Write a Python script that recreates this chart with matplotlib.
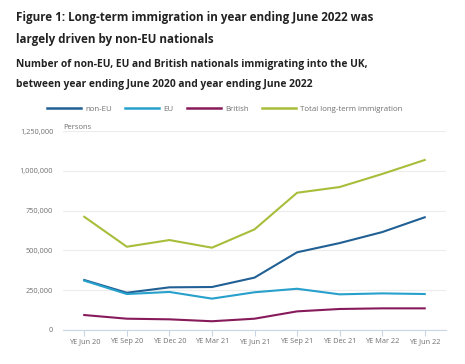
import matplotlib
matplotlib.use("Agg")
import matplotlib.pyplot as plt
from matplotlib.ticker import FuncFormatter

plt.rcParams['font.family'] = ['Open Sans', 'DejaVu Sans']

categories = ["YE Jun 20", "YE Sep 20", "YE Dec 20", "YE Mar 21", "YE Jun 21",
              "YE Sep 21", "YE Dec 21", "YE Mar 22", "YE Jun 22"]
non_eu = [314000, 234000, 268000, 270000, 329000, 488000, 546000, 615000, 708000]
eu = [310000, 226000, 239000, 197000, 237000, 259000, 224000, 230000, 226000]
british = [94000, 71000, 67000, 55000, 71000, 117000, 132000, 136000, 136000]
total = [711000, 523000, 565000, 517000, 632000, 862000, 898000, 980000, 1068000]
series_names = ["non-EU", "EU", "British", "Total long-term immigration"]
colors = ["#206095", "#27a0cc", "#871a5b", "#a8bd3a"]
yticks = [0, 250000, 500000, 750000, 1000000, 1250000]

fig = plt.figure(figsize=(4.65, 3.64), dpi=100)
ax = fig.add_axes([63/465, 34/364, (446-63)/465, (330-131)/364])

x = list(range(len(categories)))
lines = []
for vals, name, c in zip([non_eu, eu, british, total], series_names, colors):
    ln, = ax.plot(x, vals, color=c, lw=1.5, label=name, solid_joinstyle='round')
    lines.append(ln)

ax.set_xlim(-0.5, len(categories) - 0.5)
ax.set_ylim(0, 1250000)
ax.set_yticks(yticks)
ax.yaxis.set_major_formatter(FuncFormatter(lambda v, p: f"{int(v):,}"))
ax.set_xticks(x)
ax.set_xticklabels(categories)
ax.grid(axis='y', color='#ececec', lw=0.8)
ax.set_axisbelow(True)
for s in ['top', 'right', 'left']:
    ax.spines[s].set_visible(False)
ax.spines['bottom'].set_color('#c9d6e6')
ax.spines['bottom'].set_linewidth(0.8)
ax.tick_params(axis='y', length=0, labelsize=5.3, labelcolor='#707070', pad=7)
ax.tick_params(axis='x', length=4, color='#c9d6e6', labelsize=5.3, labelcolor='#707070', pad=2)

ax.text(0, 1.0, "Persons", transform=ax.transAxes, fontsize=5.5, color='#707070',
        ha='left', va='bottom')

fig.text(16/465, 1 - 17/364, "Figure 1: Long-term immigration in year ending June 2022 was",
         fontsize=8.4, fontweight='bold', color='#222222', va='center', ha='left')
fig.text(16/465, 1 - 39/364, "largely driven by non-EU nationals",
         fontsize=8.4, fontweight='bold', color='#222222', va='center', ha='left')
fig.text(16/465, 1 - 64/364, "Number of non-EU, EU and British nationals immigrating into the UK,",
         fontsize=7.4, fontweight='bold', color='#222222', va='center', ha='left')
fig.text(16/465, 1 - 85/364, "between year ending June 2020 and year ending June 2022",
         fontsize=7.4, fontweight='bold', color='#222222', va='center', ha='left')

leg = fig.legend(handles=lines, loc='center left', bbox_to_anchor=(47/465, 1 - 109/364),
                 ncol=4, frameon=False, fontsize=5.7, handlelength=4.3,
                 handletextpad=0.5, columnspacing=1.7, borderaxespad=0, borderpad=0)
for t in leg.get_texts():
    t.set_color('#707070')
for l in leg.get_lines():
    l.set_linewidth(1.8)

fig.savefig("out.png", dpi=100)
